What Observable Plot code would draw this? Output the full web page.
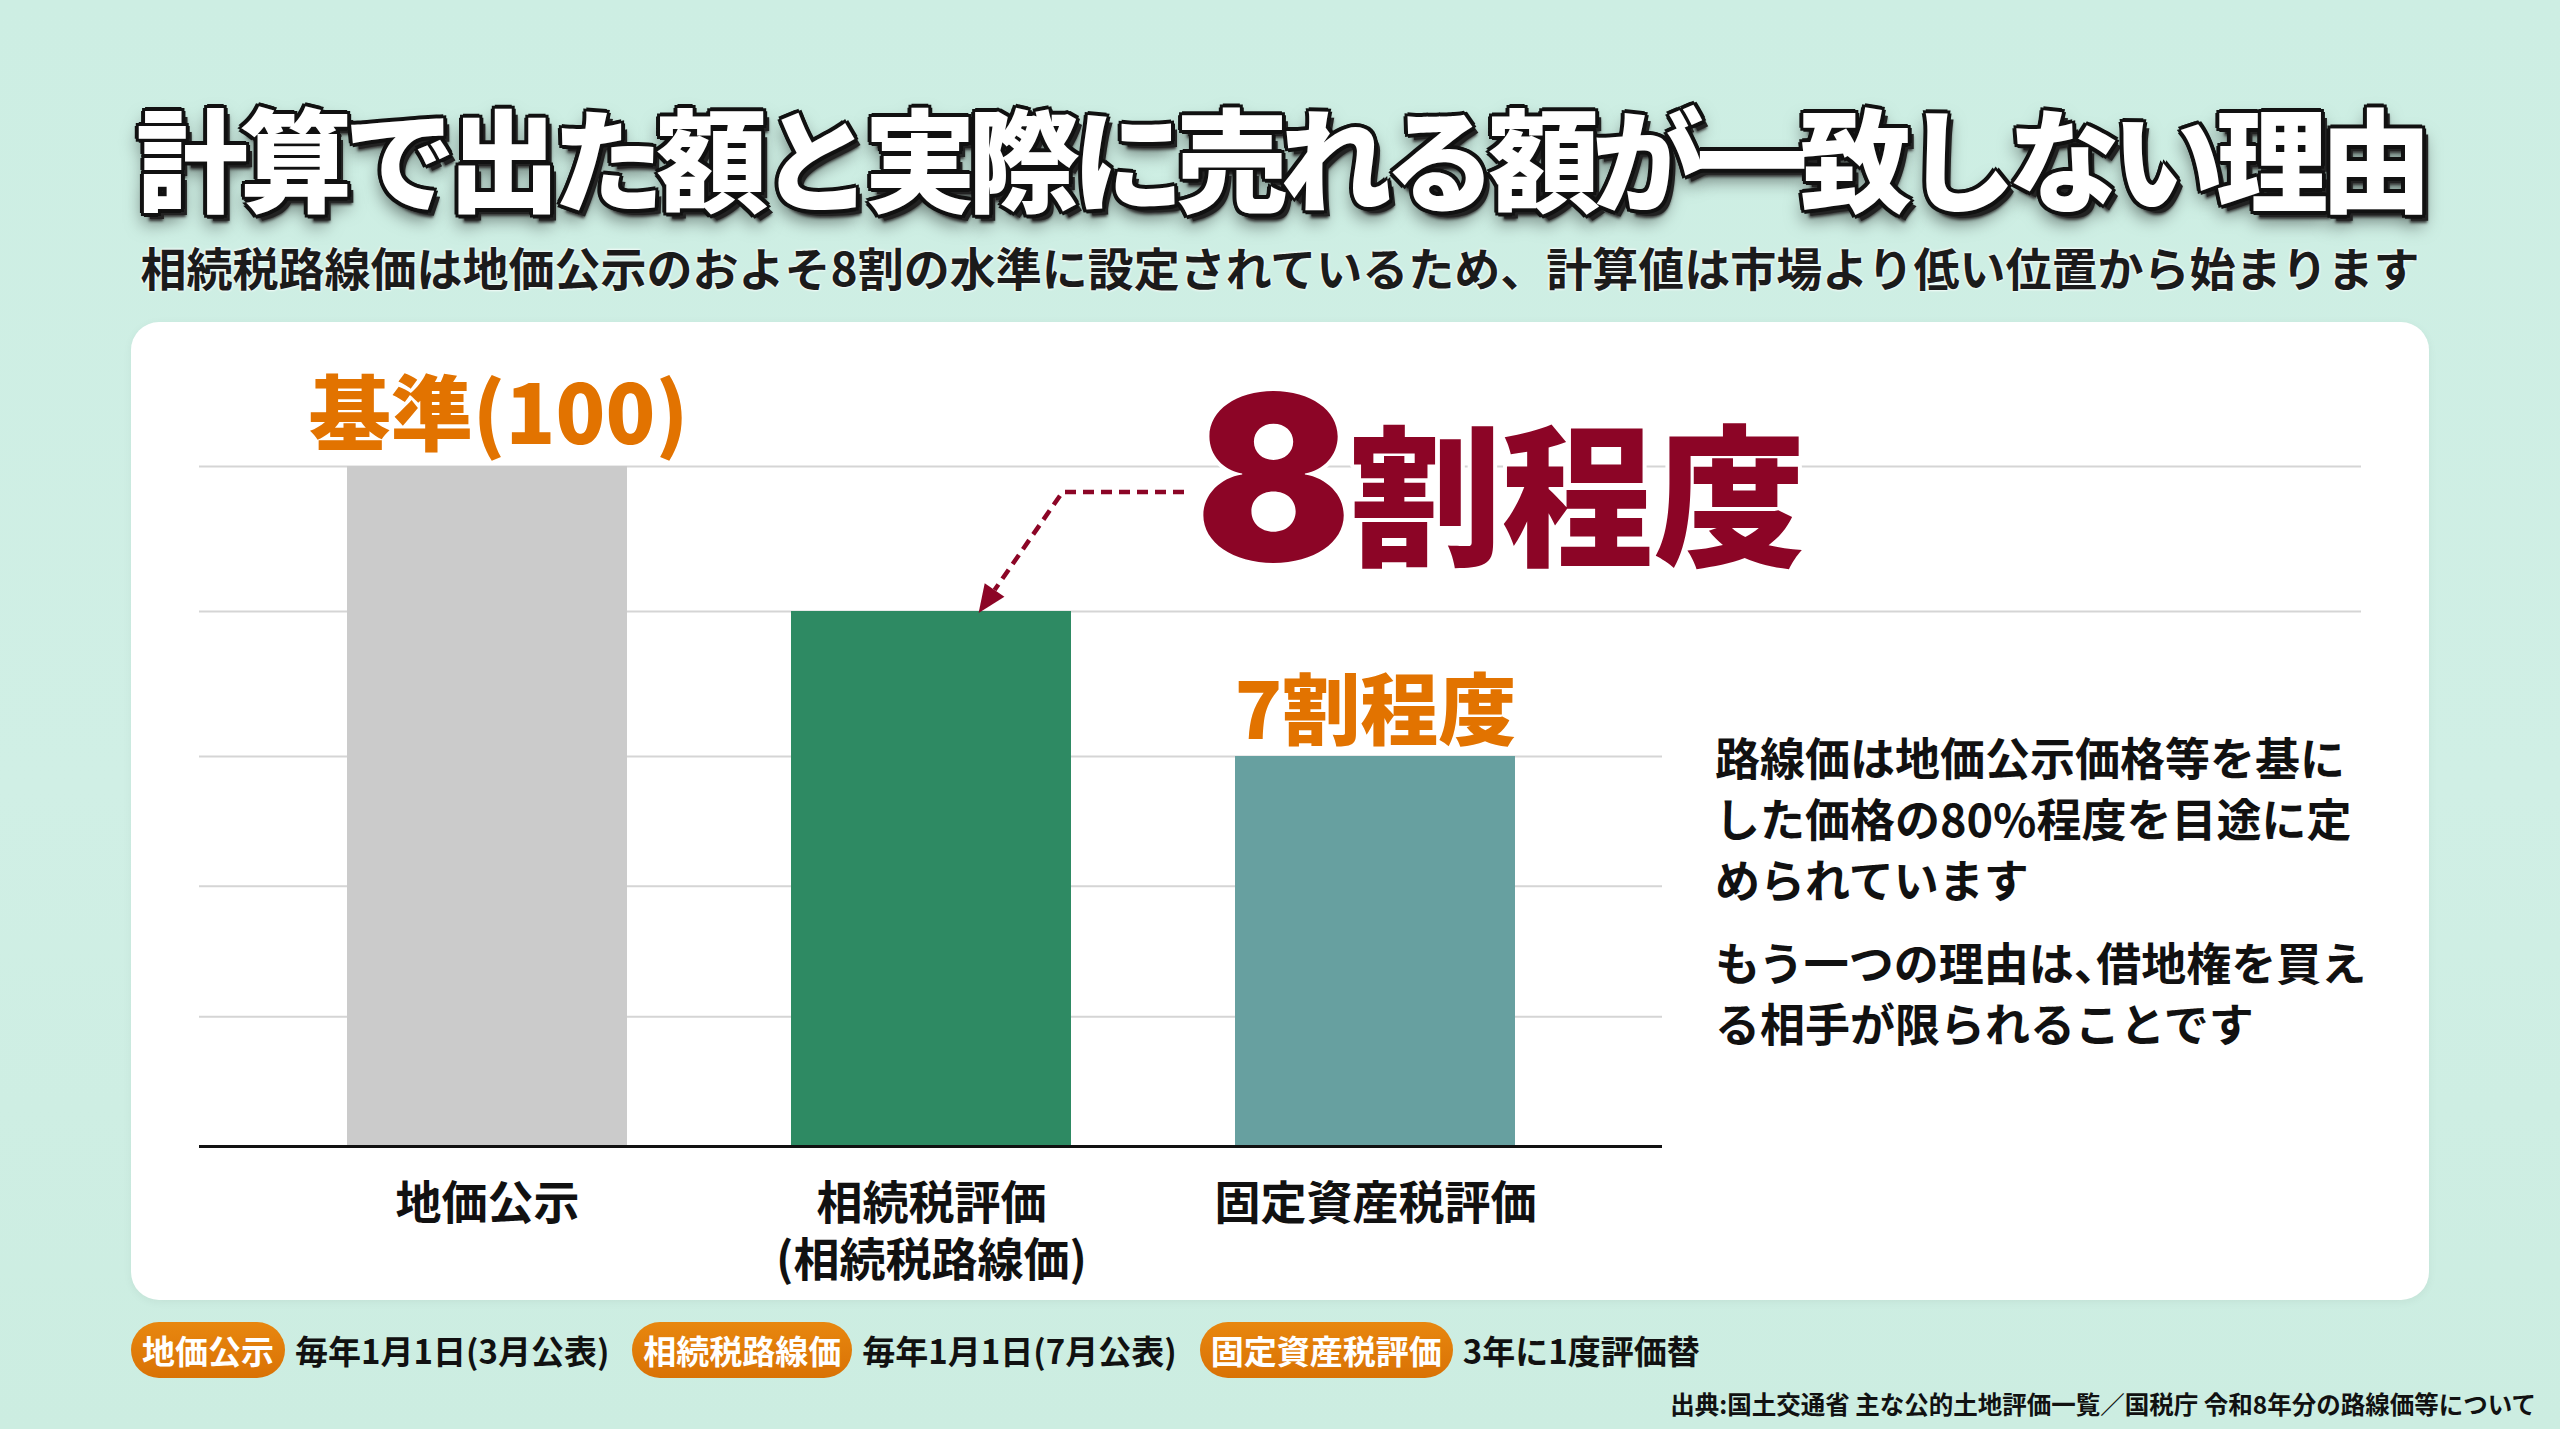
<!DOCTYPE html>
<html lang="ja">
<head>
<meta charset="utf-8">
<script src="https://cdn.jsdelivr.net/npm/d3@7"></script>
<script src="https://cdn.jsdelivr.net/npm/@observablehq/plot@0.6"></script>
<style>
html, body { margin: 0; padding: 0; }
body {
  width: 2560px; height: 1429px; position: relative; overflow: hidden;
  background: linear-gradient(180deg, #cdeee3 0%, #d0efe5 55%, #ccede1 100%);
  font-family: "Noto Sans CJK JP", "Noto Sans", sans-serif;
}
#title {
  position: absolute; left: 0; top: 99px; width: 2560px; text-align: center;
  font-size: 112px; font-weight: 900; line-height: 1; color: #fff; letter-spacing: -8px;
  text-shadow:
    4px 0 0 #111, -4px 0 0 #111, 0 4px 0 #111, 0 -4px 0 #111,
    3px 3px 0 #111, -3px 3px 0 #111, 3px -3px 0 #111, -3px -3px 0 #111,
    6px 6px 0 #222, 5px 8px 3px #333, 0 10px 18px rgba(0,0,0,0.55);
}
#subtitle {
  position: absolute; left: 0; top: 243px; width: 2560px; text-align: center;
  font-size: 46px; font-weight: 700; line-height: 1; color: #1b1b1b;
  text-shadow: 0 0 3px #fff, 0 0 3px #fff;
}
#card {
  position: absolute; left: 131px; top: 322px; width: 2298px; height: 978px;
  background: #fff; border-radius: 28px;
  box-shadow: 0 2px 10px rgba(0,0,0,0.05);
}
#chart { position: absolute; left: 0; top: 0; }
#note {
  position: absolute; left: 1584px; top: 404px;
  font-size: 45px; font-weight: 700; color: #111; line-height: 61px; white-space: nowrap;
}
#note p { margin: 0; }
#note p + p { margin-top: 22px; }
.tight { letter-spacing: -0.5em; }
#footer {
  position: absolute; left: 131px; top: 1322px; height: 56px;
  display: flex; align-items: center; white-space: nowrap;
}
.badge {
  height: 56px; line-height: 56px; padding: 0 11px; border-radius: 28px;
  background: linear-gradient(180deg, #e8870f 0%, #d97205 100%);
  color: #fff; font-size: 33px; font-weight: 700; margin-right: 10px;
}
.desc { font-size: 33px; font-weight: 700; color: #111; margin-right: 23px; }
#source {
  position: absolute; right: 24px; top: 1390px;
  font-size: 24.5px; font-weight: 700; color: #111; line-height: 28px; white-space: nowrap;
}
</style>
</head>
<body>
<div id="title"></div>
<div id="subtitle"></div>
<div id="card"><div id="chart"></div><div id="note"></div></div>
<div id="footer"></div>
<div id="source"></div>
<script>
// ---- data ----
const titleText = "計算で出た額と実際に売れる額が一致しない理由";
const subtitleText = "相続税路線価は地価公示のおよそ8割の水準に設定されているため、計算値は市場より低い位置から始まります";
const categories = ["地価公示", "相続税評価", "固定資産税評価"];
const tickLabels = ["地価公示", "相続税評価\n(相続税路線価)", "固定資産税評価"];
const values = [100, 80, 70];
const yDomain = [0, 70, 80, 100];
const gridShort = [23.3, 46.7, 70];
const gridLong = [80, 100];
const baseLabel = "基準(100)";
const label7 = "7割程度";
const big8Digit = "8";
const big8Rest = "割程度";
const noteParas = [
  ["路線価は地価公示価格等を基に", "した価格の80%程度を目途に定", "められています"],
  ["もう一つの理由は、借地権を買え", "る相手が限られることです"]
];
const badges = ["地価公示", "相続税路線価", "固定資産税評価"];
const badgeDescs = ["毎年1月1日(3月公表)", "毎年1月1日(7月公表)", "3年に1度評価替"];
const sourceText = "出典:国土交通省 主な公的土地評価一覧／国税庁 令和8年分の路線価等について";

// ---- styles ----
const FONT = '"Noto Sans CJK JP", "Noto Sans", sans-serif';
const DIGIT_FONT = 'Inter, Roboto, "Noto Sans CJK JP", sans-serif';
const barColors = ["#cbcbcb", "#2e8a63", "#67a0a0"];
const ORANGE = "#e27300";
const DARKRED = "#8c0526";
const GRID = "#d5d5d5";

document.getElementById("title").textContent = titleText;
document.getElementById("subtitle").textContent = subtitleText;
document.getElementById("note").innerHTML = noteParas
  .map(p => "<p>" + p.map(l => l.replace("、", '<span class="tight">、</span>')).join("<br>") + "</p>").join("");
document.getElementById("footer").innerHTML = badges.map((b, i) =>
  `<span class="badge">${b}</span><span class="desc">${badgeDescs[i]}</span>`).join("");
document.getElementById("source").textContent = sourceText;

const rows = categories.map((c, i) => ({cat: c, value: values[i]}));

const W = 2298, H = 978, mL = 68, mR = 767, mT = 144, mB = 154;
const base = H - mB;
const yRange = [base, base - 390, base - 535, mT];

const chart = Plot.plot({
  width: W, height: H,
  marginLeft: mL, marginRight: mR, marginTop: mT, marginBottom: mB,
  style: {fontFamily: FONT, background: "transparent", overflow: "visible"},
  x: {domain: categories, paddingInner: 0.37, paddingOuter: 0.33, label: null},
  y: {type: "linear", domain: yDomain, range: yRange, axis: null},
  color: {domain: categories, range: barColors},
  marks: [
    Plot.ruleY(gridShort, {stroke: GRID, strokeWidth: 2}),
    Plot.ruleY(gridLong, {stroke: GRID, strokeWidth: 2, insetRight: -699}),
    Plot.barY(rows, {x: "cat", y: "value", fill: "cat"}),
    Plot.ruleY([0], {stroke: "#111", strokeWidth: 3}),
    Plot.axisX({
      tickSize: 0, tickPadding: 32, fontSize: 46, fontWeight: 700, lineHeight: 1.24,
      fill: "#111", label: null,
      tickFormat: d => tickLabels[categories.indexOf(d)]
    }),
    Plot.text([rows[0]], {x: "cat", y: "value", text: () => baseLabel,
      dx: 11, dy: -23, lineAnchor: "bottom", fontSize: 82, fontWeight: 900, fill: ORANGE}),
    Plot.text([rows[2]], {x: "cat", y: "value", text: () => label7,
      dy: -18, lineAnchor: "bottom", fontSize: 78, fontWeight: 900, fill: ORANGE}),
    Plot.text([rows[2]], {x: "cat", y: () => values[0], text: () => big8Digit,
      textAnchor: "end", dx: -24, dy: 94, lineAnchor: "bottom", fontSize: 230, fontWeight: 900,
      fontFamily: DIGIT_FONT,
      fill: DARKRED, stroke: "#fff", strokeWidth: 8, paintOrder: "stroke"}),
    Plot.text([rows[2]], {x: "cat", y: () => values[0], text: () => big8Rest,
      textAnchor: "start", dx: -26, dy: 87, lineAnchor: "bottom", fontSize: 152, fontWeight: 900,
      fill: DARKRED, stroke: "#fff", strokeWidth: 8, paintOrder: "stroke"})
  ]
});
document.getElementById("chart").appendChild(chart);

// ---- annotation arrow, placed with the chart's scales ----
const X = chart.scale("x"), Y = chart.scale("y");
const bw = X.bandwidth;
const sx = X.apply(categories[2]) + bw / 2 - 191, sy = Y.apply(values[0]) + 26;
const cx = X.apply(categories[1]) + bw * 0.97, cy = sy;
const tx = X.apply(categories[1]) + bw * 0.67, ty = Y.apply(values[1]) + 2;
const dxv = tx - cx, dyv = ty - cy, len = Math.hypot(dxv, dyv);
const ux = dxv / len, uy = dyv / len, headL = 28, headW = 12;
const bxp = tx - ux * headL, byp = ty - uy * headL;
const svg = d3.select(chart);
const g = svg.append("g");
g.append("path")
  .attr("d", `M${sx},${sy}H${cx}L${bxp},${byp}`)
  .attr("fill", "none").attr("stroke", DARKRED).attr("stroke-width", 4.5)
  .attr("stroke-dasharray", "11 7");
g.append("path")
  .attr("d", `M${tx},${ty}L${bxp - uy * headW},${byp + ux * headW}L${bxp + uy * headW},${byp - ux * headW}Z`)
  .attr("fill", DARKRED);
</script>
</body>
</html>
